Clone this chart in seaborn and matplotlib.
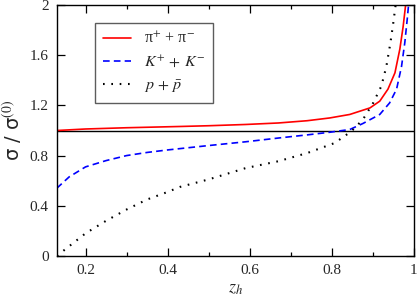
import numpy as np
import pandas as pd
import matplotlib
matplotlib.use('Agg')
import matplotlib.pyplot as plt
import seaborn as sns

sns.set_theme(style="ticks")
plt.rcParams['font.family'] = ['Liberation Serif', 'DejaVu Serif']
plt.rcParams['mathtext.fontset'] = 'stix'

# pi+ + pi-
z_pi = [0.13, 0.2, 0.3, 0.43, 0.5, 0.59, 0.67, 0.74, 0.795, 0.844, 0.893, 0.917,
        0.937, 0.954, 0.966, 0.974, 0.980, 0.982]
r_pi = [1.0, 1.012, 1.022, 1.032, 1.038, 1.048, 1.06, 1.078, 1.10, 1.128, 1.18, 1.234,
        1.33, 1.46, 1.65, 1.83, 2.0, 2.05]

# K+ + K-
z_k = [0.13, 0.16, 0.2, 0.25, 0.3, 0.35, 0.4, 0.5, 0.59, 0.67, 0.74, 0.795,
       0.844, 0.876, 0.917, 0.941, 0.958, 0.970, 0.978, 0.984, 0.988]
r_k = [0.54, 0.63, 0.71, 0.76, 0.80, 0.825, 0.845, 0.88, 0.91, 0.94, 0.965, 0.986,
       1.008, 1.056, 1.128, 1.22, 1.33, 1.51, 1.70, 1.89, 2.03]

# p + pbar
z_p = [0.13, 0.2, 0.25, 0.3, 0.35, 0.4, 0.43, 0.5, 0.59, 0.67, 0.74, 0.807,
       0.848, 0.876, 0.901, 0.921, 0.933, 0.943, 0.950, 0.956]
r_p = [0.0, 0.18, 0.28, 0.37, 0.45, 0.51, 0.55, 0.61, 0.70, 0.755, 0.82, 0.90,
       0.994, 1.088, 1.22, 1.355, 1.51, 1.70, 1.86, 2.01]

labels = ['π$^{+}$ + π$^{-}$', r'$K^{+}\,+\,K^{-}$', r'$p\,+\,\bar{p}$']

fig = plt.figure(figsize=(4.18, 3.0), dpi=100)
ax = fig.add_axes([0.136, 0.147, 0.854, 0.836])

ax.axhline(1.0, color='black', linewidth=1.0, zorder=1)

sns.lineplot(x=z_pi, y=r_pi, ax=ax, color='#ff0000', linewidth=1.2, label=labels[0])
sns.lineplot(x=z_k, y=r_k, ax=ax, color='#0000ff', linewidth=1.2, label=labels[1],
             linestyle=(0, (4, 2.5)))
sns.lineplot(x=z_p, y=r_p, ax=ax, color='black', linewidth=1.5, label=labels[2],
             linestyle=(0, (0.8, 3.2)))

ax.set_xlim(0.13, 1.0)
ax.set_ylim(0, 2)
ax.set_xticks([0.2, 0.4, 0.6, 0.8, 1.0])
ax.set_xticklabels(['0.2', '0.4', '0.6', '0.8', '1'])
ax.set_xticks([0.3, 0.5, 0.7, 0.9], minor=True)
ax.set_yticks([0, 0.4, 0.8, 1.2, 1.6, 2.0])
ax.set_yticklabels(['0', '0.4', '0.8', '1.2', '1.6', '2'])

ax.tick_params(which='both', direction='in', top=True, right=True,
               labelsize=11, color='black', width=0.9)
ax.tick_params(which='major', length=6, pad=6)
ax.tick_params(which='minor', length=3)
for s in ax.spines.values():
    s.set_color('black')
    s.set_linewidth(1.0)

ax.set_xlabel(r'$z_h$', fontsize=13, labelpad=2)
ax.set_ylabel('σ / σ$^{(0)}$', fontsize=14, family=['DejaVu Sans'], labelpad=4)

leg = ax.legend(loc='upper left', bbox_to_anchor=(0.106, 0.928), fontsize=11.5,
                frameon=True, fancybox=False, edgecolor='#333333',
                handlelength=1.8, handletextpad=0.8, labelspacing=0.45,
                borderpad=0.5, borderaxespad=0)
leg.get_frame().set_linewidth(1.0)

fig.savefig('out.png', dpi=100)
